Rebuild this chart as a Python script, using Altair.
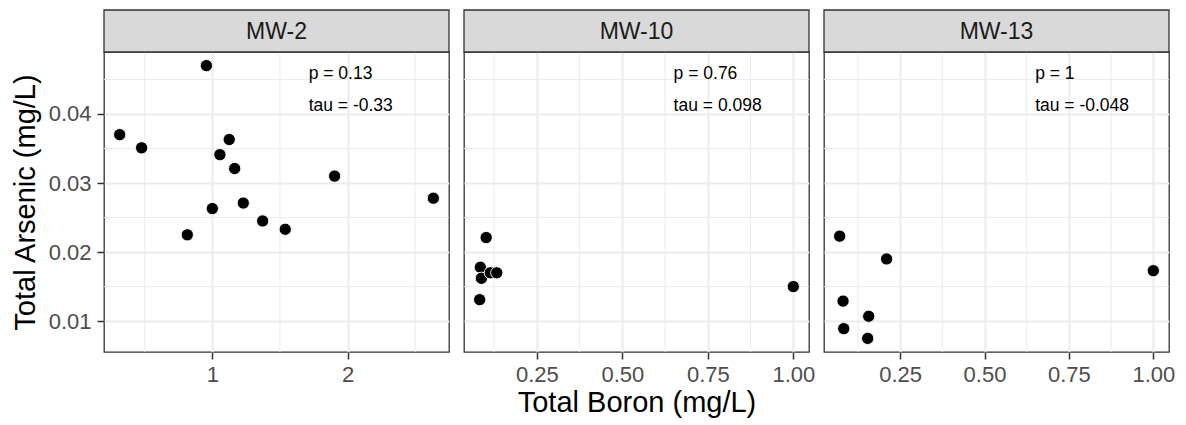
import altair as alt
import pandas as pd

wells = ["MW-2", "MW-10", "MW-13"]

boron_mw2 = [0.956, 0.315, 0.477, 1.125, 1.056, 1.165, 1.904, 2.634, 1.0, 1.229, 1.372, 1.539, 0.815]
arsenic_mw2 = [0.047, 0.037, 0.0351, 0.0363, 0.0341, 0.0321, 0.031, 0.0278, 0.0263, 0.0271, 0.0245, 0.0233, 0.0225]

boron_mw10 = [0.102, 0.085, 0.088, 0.114, 0.133, 0.083, 1.0]
arsenic_mw10 = [0.0221, 0.0178, 0.0162, 0.017, 0.017, 0.0131, 0.015]

boron_mw13 = [0.071, 0.21, 1.0, 0.081, 0.157, 0.083, 0.154]
arsenic_mw13 = [0.0223, 0.019, 0.0173, 0.0129, 0.0107, 0.0089, 0.0075]

p_labels = ["p = 0.13", "p = 0.76", "p = 1"]
tau_labels = ["tau = -0.33", "tau = 0.098", "tau = -0.048"]

x_major = {"MW-2": [1, 2], "MW-10": [0.25, 0.5, 0.75, 1.0], "MW-13": [0.25, 0.5, 0.75, 1.0]}
x_minor = {"MW-2": [0.5, 1.5, 2.5], "MW-10": [0.125, 0.375, 0.625, 0.875], "MW-13": [0.125, 0.375, 0.625, 0.875]}
x_format = {"MW-2": ".0f", "MW-10": ".2f", "MW-13": ".2f"}
y_major = [0.01, 0.02, 0.03, 0.04]
y_minor = [0.015, 0.025, 0.035, 0.045]

data = {
    "MW-2": (boron_mw2, arsenic_mw2),
    "MW-10": (boron_mw10, arsenic_mw10),
    "MW-13": (boron_mw13, arsenic_mw13),
}

FONT = "Liberation Sans"
W, H, STRIP_H = 345, 300, 42
GRID = "#EBEBEB"
DARK = "#333333"

all_as = arsenic_mw2 + arsenic_mw10 + arsenic_mw13
ymin, ymax = min(all_as), max(all_as)
yspan = ymax - ymin
y_domain = [ymin - 0.05 * yspan, ymax + 0.05 * yspan]


def panel(i, well):
    bx, ay = data[well]
    df = pd.DataFrame({"boron": bx, "arsenic": ay})
    xmin, xmax = min(bx), max(bx)
    xspan = xmax - xmin
    xs = alt.Scale(domain=[xmin - 0.05 * xspan, xmax + 0.05 * xspan], nice=False, zero=False)
    ys = alt.Scale(domain=y_domain, nice=False, zero=False)

    xaxis = alt.Axis(
        values=x_major[well], format=x_format[well],
        title="Total Boron (mg/L)" if i == 1 else None,
        grid=True, gridColor=GRID, gridWidth=2,
        domain=False, ticks=True, tickColor=DARK, tickSize=7, tickWidth=1.5,
        labelColor="#4D4D4D", labelFontSize=22, labelFont=FONT, labelPadding=5,
        titleFont=FONT, titleFontSize=29, titleFontWeight="normal", titleColor="#000000",
        titlePadding=3,
    )
    if i == 0:
        yaxis = alt.Axis(
            values=y_major, format=".2f", title="Total Arsenic (mg/L)",
            grid=True, gridColor=GRID, gridWidth=2,
            domain=False, ticks=True, tickColor=DARK, tickSize=7, tickWidth=1.5,
            labelColor="#4D4D4D", labelFontSize=22, labelFont=FONT, labelPadding=6,
            titleFont=FONT, titleFontSize=29, titleFontWeight="normal", titleColor="#000000",
            titlePadding=8,
        )
    else:
        yaxis = alt.Axis(
            values=y_major, title=None, labels=False, ticks=False, domain=False,
            grid=True, gridColor=GRID, gridWidth=2,
        )

    xminor_df = pd.DataFrame({"v": x_minor[well]})
    yminor_df = pd.DataFrame({"v": y_minor})

    xm = alt.Chart(xminor_df).mark_rule(color=GRID, strokeWidth=1).encode(
        x=alt.X("v:Q", scale=xs, axis=xaxis)
    )
    ym = alt.Chart(yminor_df).mark_rule(color=GRID, strokeWidth=1).encode(
        y=alt.Y("v:Q", scale=ys, axis=yaxis)
    )
    pts = alt.Chart(df).mark_point(
        filled=True, shape="circle", size=150, color="#000000", opacity=1,
        stroke="#FFFFFF", strokeWidth=0.9,
    ).encode(
        x=alt.X("boron:Q", scale=xs, axis=xaxis),
        y=alt.Y("arsenic:Q", scale=ys, axis=yaxis),
    )
    lab_df = pd.DataFrame({
        "x": [0.65 * xmax, 0.65 * xmax],
        "y": [0.975 * ymax, 0.875 * ymax],
        "label": [p_labels[i], tau_labels[i]],
    })
    txt = alt.Chart(lab_df).mark_text(
        align="left", baseline="middle", font=FONT, fontSize=17.5, color="#000000"
    ).encode(
        x=alt.X("x:Q", scale=xs, axis=xaxis),
        y=alt.Y("y:Q", scale=ys, axis=yaxis),
        text="label:N",
    )
    strip_df = pd.DataFrame({"well": [well]})
    strip_rect = alt.Chart(strip_df).mark_rect(
        fill="#D9D9D9", stroke=DARK, strokeWidth=1.3
    ).encode(
        x=alt.value(0), x2=alt.value(W), y=alt.value(-STRIP_H), y2=alt.value(0)
    )
    strip_txt = alt.Chart(strip_df).mark_text(
        font=FONT, fontSize=23, color="#1A1A1A", baseline="middle", align="center"
    ).encode(
        x=alt.value(W / 2), y=alt.value(-STRIP_H / 2 + 1), text="well:N"
    )
    return alt.layer(xm, ym, pts, txt, strip_rect, strip_txt).properties(width=W, height=H)


chart = alt.hconcat(
    *[panel(i, w) for i, w in enumerate(wells)], spacing=15, bounds="flush"
).properties(
    padding={"left": 2, "top": 0, "right": 0, "bottom": 0}
).configure(background="#FFFFFF").configure_view(stroke=DARK, strokeWidth=1.3)

chart.save("out.html", embed_options={"renderer": "svg", "actions": False})
